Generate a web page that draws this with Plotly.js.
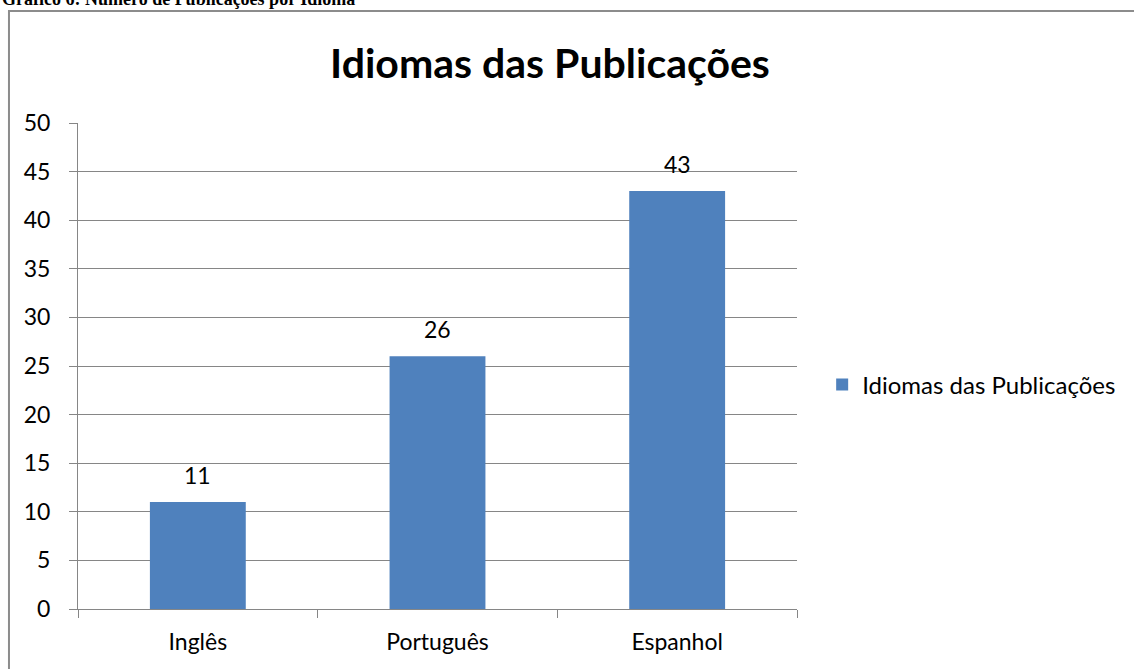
<!DOCTYPE html>
<html>
<head>
<meta charset="utf-8">
<script src="https://cdn.plot.ly/plotly-3.0.1.min.js"></script>
<style>
  html, body { margin: 0; padding: 0; background: #fff; }
  #chart { width: 1134px; height: 669px; }
</style>
</head>
<body>
<div id="chart"></div>
<script>
// dados
const categorias = ['Inglês', 'Português', 'Espanhol'];
const publicacoes = [11, 26, 43];
const nomeSerie = 'Idiomas das Publicações';
const tituloGrafico = 'Idiomas das Publicações';
const legendaFigura = 'Gráfico 6: Número de Publicações por Idioma';

const COR_BARRA = '#4F81BD';
const COR_GRADE = '#868686';
const FONTE = 'Lato, "Open Sans", sans-serif';
const TAM = 23;

const trace = {
    type: 'bar',
    x: categorias,
    y: publicacoes,
    name: nomeSerie,
    marker: { color: COR_BARRA },
    showlegend: true,
    hoverinfo: 'x+y'
};

// rótulos de valor acima das barras
const rotulos = categorias.map((c, i) => ({
    x: c, y: publicacoes[i],
    xref: 'x', yref: 'y',
    text: String(publicacoes[i]),
    showarrow: false,
    yanchor: 'bottom',
    yshift: 11,
    font: { family: FONTE, size: TAM, color: '#000' }
}));

// legenda da figura (cortada no topo)
rotulos.push({
    x: -0.1085, y: 1.255,
    xref: 'paper', yref: 'paper',
    xanchor: 'left', yanchor: 'middle',
    text: '<b>' + legendaFigura + '</b>',
    showarrow: false,
    font: { family: '"Liberation Serif", serif', size: 18, color: '#000' }
});

const layout = {
    width: 1134,
    height: 669,
    margin: { l: 78, r: 337, t: 123, b: 60 },
    font: { family: FONTE, size: TAM, color: '#000' },
    title: {
        text: '<b>' + tituloGrafico + '</b>',
        font: { family: FONTE, size: 41, color: '#000' },
        x: 0.485, xanchor: 'center',
        y: 0.905, yanchor: 'middle'
    },
    xaxis: {
        type: 'category',
        showline: true, linecolor: COR_GRADE, linewidth: 1,
        ticks: 'outside', ticklen: 8, tickcolor: COR_GRADE,
        tickson: 'boundaries',
        ticklabelstandoff: 12,
        showgrid: false,
        zeroline: false,
        tickfont: { family: FONTE, size: TAM, color: '#000' }
    },
    yaxis: {
        range: [0, 50],
        dtick: 5,
        showline: true, linecolor: COR_GRADE, linewidth: 1,
        ticks: 'outside', ticklen: 8, tickcolor: COR_GRADE,
        ticklabelstandoff: 14,
        showgrid: true, gridcolor: COR_GRADE, gridwidth: 1,
        zeroline: false,
        tickfont: { family: FONTE, size: TAM, color: '#000' }
    },
    bargap: 0.6,
    legend: {
        x: 1.035, xanchor: 'left',
        y: 0.461, yanchor: 'middle',
        font: { family: FONTE, size: 24, color: '#000' },
        bgcolor: 'rgba(0,0,0,0)'
    },
    shapes: [{
        type: 'rect',
        xref: 'paper', yref: 'paper',
        x0: -0.096, x1: 2.5, y0: -0.5, y1: 1.2305,
        line: { color: '#8c8c8c', width: 2 },
        layer: 'below'
    }],
    annotations: rotulos,
    plot_bgcolor: 'white',
    paper_bgcolor: 'white'
};

Plotly.newPlot('chart', [trace], layout, { displayModeBar: false, staticPlot: true });
</script>
</body>
</html>
